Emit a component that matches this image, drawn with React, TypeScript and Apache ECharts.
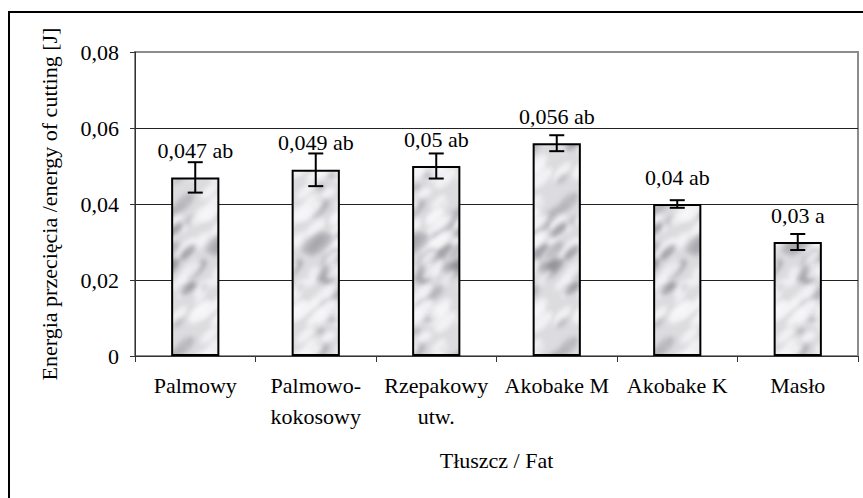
import React, { useEffect, useRef } from "react";
import * as echarts from "echarts";

const categories = ["Palmowy", "Palmowo-\nkokosowy", "Rzepakowy\nutw.", "Akobake M", "Akobake K", "Masło"];
const values = [0.047, 0.049, 0.05, 0.056, 0.04, 0.03];
const errors = [0.004, 0.0043, 0.0033, 0.0021, 0.001, 0.0021];
const groups = ["ab", "ab", "ab", "ab", "ab", "a"];
const yTicks = { min: 0, max: 0.08, interval: 0.02 };

const FONT = "Liberation Serif";
const FS = 22;

function hash(n: number): number {
  const s = Math.sin(n * 12.9898 + 78.233) * 43758.5453;
  return s - Math.floor(s);
}

function makeTexture(): HTMLCanvasElement {
  const W = 96;
  const H = 144;
  const c = document.createElement("canvas");
  c.width = W;
  c.height = H;
  const ctx = c.getContext("2d")!;
  ctx.fillStyle = "#dcdcdf";
  ctx.fillRect(0, 0, W, H);
  ctx.filter = "blur(2.5px)";
  for (let i = 0; i < 90; i++) {
    const x = hash(i) * W;
    const y = hash(i + 500) * H;
    const r = 2 + hash(i + 900) * 6;
    const t = hash(i + 1300);
    ctx.fillStyle =
      t < 0.3 ? "rgba(150,150,156,0.55)" : t < 0.4 ? "rgba(120,120,126,0.6)" : "rgba(248,248,250,0.8)";
    for (let dx = -1; dx <= 1; dx++) {
      for (let dy = -1; dy <= 1; dy++) {
        ctx.beginPath();
        ctx.ellipse(x + dx * W, y + dy * H, r * 2, r * 0.8, -0.75, 0, Math.PI * 2);
        ctx.fill();
      }
    }
  }
  return c;
}

export default function App() {
  const ref = useRef<HTMLDivElement>(null);
  useEffect(() => {
    document.body.style.margin = "0";
    const chart = echarts.init(ref.current!, undefined, { renderer: "svg" });
    const tex = makeTexture();
    const errData = values.map((v, i) => [i, v - errors[i], v + errors[i]]);
    chart.setOption({
      animation: false,
      textStyle: { fontFamily: FONT, color: "#000" },
      graphic: [
        {
          type: "rect",
          shape: { x: 9, y: 12, width: 900, height: 600 },
          style: { fill: "none", stroke: "#000", lineWidth: 2 },
          silent: true,
        },
      ],
      grid: {
        left: 135,
        right: 5,
        top: 52,
        bottom: 142,
        show: true,
        borderColor: "#8c8c8c",
        borderWidth: 2,
        backgroundColor: "transparent",
      },
      xAxis: {
        type: "category",
        data: categories,
        name: "Tłuszcz / Fat",
        nameLocation: "middle",
        nameGap: 93,
        nameTextStyle: { fontFamily: FONT, fontSize: FS, color: "#000" },
        axisLine: { show: true, lineStyle: { color: "#333", width: 1 } },
        axisTick: { show: true, length: 6, lineStyle: { color: "#333" } },
        axisLabel: {
          interval: 0,
          margin: 14,
          fontFamily: FONT,
          fontSize: FS,
          lineHeight: 31,
          color: "#000",
        },
      },
      yAxis: {
        type: "value",
        min: yTicks.min,
        max: yTicks.max,
        interval: yTicks.interval,
        name: "Energia przecięcia /energy of cutting [J]",
        nameLocation: "middle",
        nameGap: 75,
        nameTextStyle: { fontFamily: FONT, fontSize: FS, color: "#000" },
        axisLine: { show: true, lineStyle: { color: "#333", width: 1 } },
        axisTick: { show: true, length: 5, lineStyle: { color: "#333" } },
        axisLabel: {
          margin: 16,
          fontFamily: FONT,
          fontSize: FS,
          color: "#000",
          formatter: (v: number) => (v === 0 ? "0" : v.toFixed(2).replace(".", ",")),
        },
        splitLine: { show: true, showMaxLine: false, lineStyle: { color: "#222", width: 1 } },
      },
      series: [
        {
          type: "bar",
          data: values,
          barWidth: "40%",
          itemStyle: {
            color: { image: tex, repeat: "repeat", imageWidth: 96, imageHeight: 144 } as any,
            borderColor: "#000",
            borderWidth: 2,
          },
          label: {
            show: true,
            position: "top",
            distance: 16,
            fontFamily: FONT,
            fontSize: FS,
            color: "#000",
            formatter: (p: any) =>
              String(values[p.dataIndex]).replace(".", ",") + " " + groups[p.dataIndex],
          },
          z: 2,
        },
        {
          type: "custom",
          data: errData,
          encode: { x: 0, y: [1, 2] },
          z: 3,
          renderItem: (params: any, api: any) => {
            const i = api.value(0);
            const lo = api.coord([i, api.value(1)]);
            const hi = api.coord([i, api.value(2)]);
            const hw = 7.5;
            const style = { stroke: "#000", lineWidth: 2 };
            return {
              type: "group",
              children: [
                { type: "line", shape: { x1: hi[0], y1: hi[1], x2: lo[0], y2: lo[1] }, style },
                { type: "line", shape: { x1: hi[0] - hw, y1: hi[1], x2: hi[0] + hw, y2: hi[1] }, style },
                { type: "line", shape: { x1: lo[0] - hw, y1: lo[1], x2: lo[0] + hw, y2: lo[1] }, style },
              ],
            };
          },
        },
      ],
    });
    return () => chart.dispose();
  }, []);
  return <div ref={ref} style={{ width: 863, height: 498 }} />;
}
